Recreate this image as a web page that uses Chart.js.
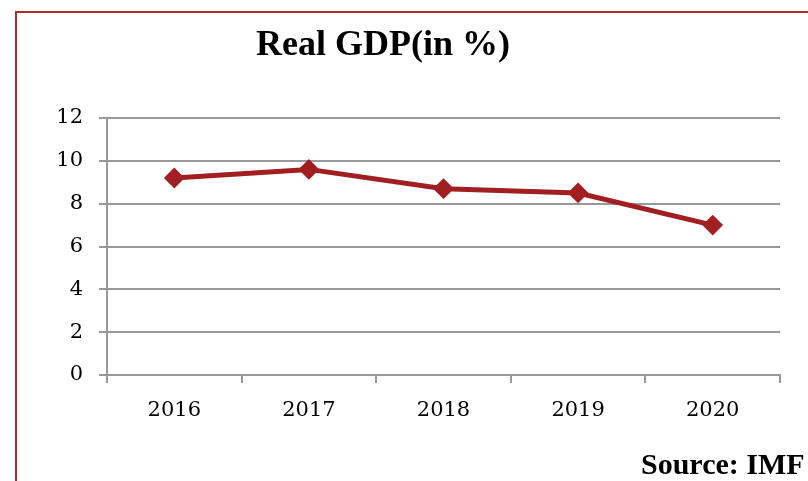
<!DOCTYPE html>
<html>
<head>
<meta charset="utf-8">
<script src="https://cdn.jsdelivr.net/npm/chart.js@4/dist/chart.umd.min.js"></script>
<style>
    html, body { margin: 0; padding: 0; background: #fff; overflow: hidden; }
    #wrap { position: relative; width: 808px; height: 481px; }
    #frame {
        position: absolute; left: 15px; top: 11px; right: -10px; bottom: -10px;
        border-left: 2px solid #b02a2e; border-top: 2px solid #b02a2e;
    }
    #title {
        position: absolute; left: 183px; width: 400px; top: 22px;
        text-align: center; font: bold 36px "Liberation Serif", serif; color: #000;
    }
    #source {
        position: absolute; left: 641px; top: 447px; white-space: nowrap;
        font: bold 30px "Liberation Serif", serif; color: #000;
    }
    canvas { position: absolute; left: 0; top: 0; }
</style>
</head>
<body>
<div id="wrap">
    <div id="frame"></div>
    <canvas id="gdpChart" width="808" height="481"></canvas>
    <div id="title">Real GDP(in %)</div>
    <div id="source">Source: IMF</div>
</div>
<script>
// Real GDP growth by year
const years = ['2016', '2017', '2018', '2019', '2020'];
const gdpGrowth = [9.2, 9.6, 8.7, 8.5, 7.0];
const yMin = 0, yMax = 12, yStep = 2;

const lineColor = '#a21f21';
const gridColor = '#999999';
const tickFont = { family: 'DejaVu Serif', size: 21 };

const ctx = document.getElementById('gdpChart').getContext('2d');
const gdpChart = new Chart(ctx, {
    type: 'line',
    data: {
        labels: years,
        datasets: [{
            label: 'Real GDP (%)',
            data: gdpGrowth,
            borderColor: lineColor,
            backgroundColor: lineColor,
            borderWidth: 5,
            pointStyle: 'rectRot',
            pointRadius: 9,
            pointBorderWidth: 2,
            tension: 0,
            fill: false
        }]
    },
    options: {
        responsive: false,
        animation: false,
        layout: { padding: { top: 118, right: 28, bottom: 0, left: 0 } },
        plugins: {
            legend: { display: false },
            tooltip: { enabled: false }
        },
        scales: {
            x: {
                offset: true,
                grid: {
                    offset: true,
                    drawOnChartArea: false,
                    drawTicks: true,
                    tickLength: 8,
                    color: gridColor,
                    lineWidth: 2
                },
                border: { color: gridColor, width: 2 },
                ticks: { color: '#000', font: tickFont, padding: 15 },
                afterFit: scale => { scale.height = 106; }
            },
            y: {
                min: yMin,
                max: yMax,
                ticks: { stepSize: yStep, color: '#000', font: tickFont, padding: 16 },
                grid: {
                    color: gridColor,
                    lineWidth: 2,
                    tickLength: 8
                },
                border: { color: gridColor, width: 2 },
                afterFit: scale => { scale.width = 107; }
            }
        }
    }
});
</script>
</body>
</html>
